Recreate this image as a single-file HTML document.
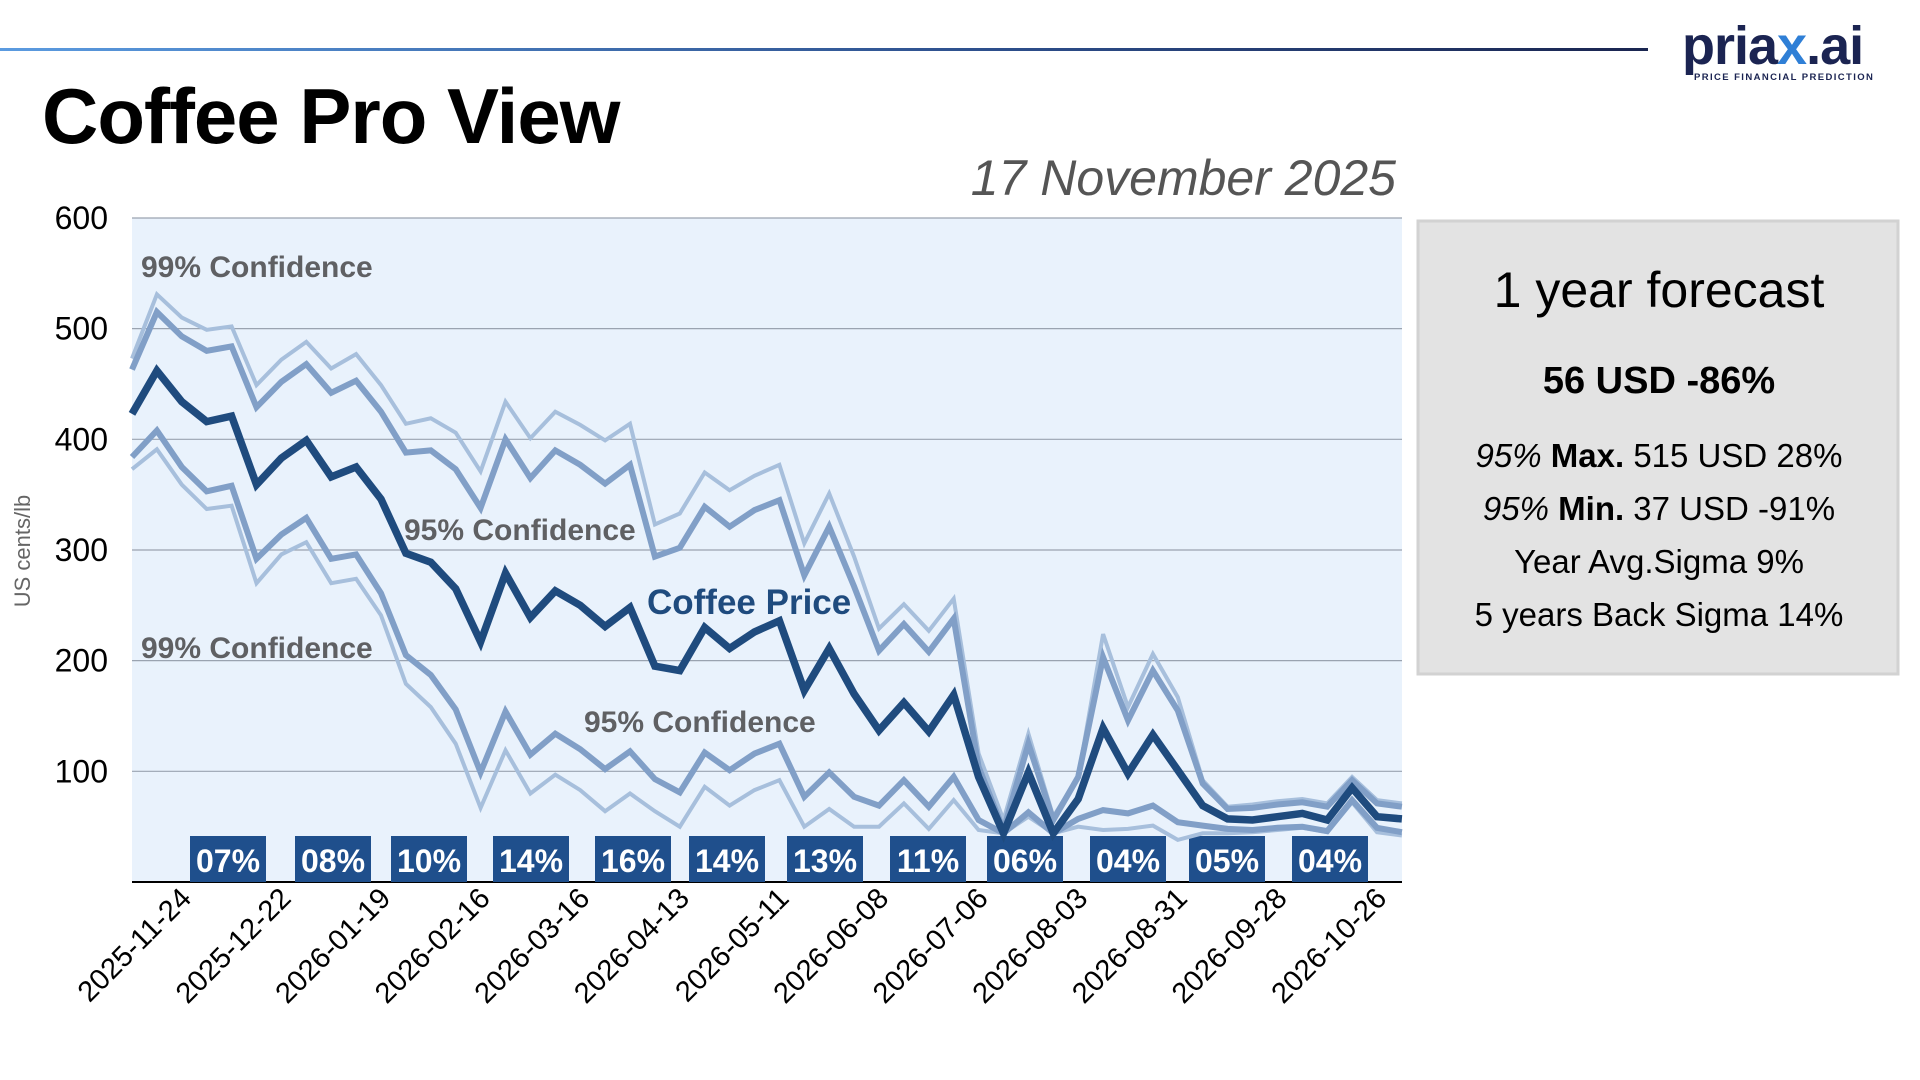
<!DOCTYPE html>
<html><head><meta charset="utf-8">
<style>
html,body{margin:0;padding:0;background:#fff;}
svg{display:block;font-family:"Liberation Sans",Arial,sans-serif;}
</style></head>
<body>
<svg id="s" width="1920" height="1080" viewBox="0 0 1920 1080" xmlns="http://www.w3.org/2000/svg">
<defs>
<linearGradient id="tl" x1="0" x2="1" y1="0" y2="0">
<stop offset="0" stop-color="#5b9be0"/><stop offset="0.6" stop-color="#2d4f8c"/><stop offset="1" stop-color="#1a2550"/>
</linearGradient>
</defs>
<rect x="0" y="48" width="1648" height="3" fill="url(#tl)"/>
<text x="1682" y="64" font-size="54" font-weight="bold" fill="#1b2452" letter-spacing="-1">pria<tspan fill="#2f7fd6">x</tspan>.ai</text>
<text x="1694" y="80" font-size="9.5" font-weight="bold" fill="#1b2452" letter-spacing="1.4">PRICE FINANCIAL PREDICTION</text>
<text x="42" y="143" font-size="78" font-weight="bold" fill="#000" letter-spacing="-1">Coffee Pro View</text>
<text x="1396" y="195" font-size="50" font-style="italic" fill="#555" text-anchor="end">17 November 2025</text>

<rect x="132" y="218" width="1270" height="664" fill="#e9f2fc"/>
<g id="grid" stroke="#9aa3b0" stroke-width="1.2"></g>
<line x1="132" y1="882" x2="1402" y2="882" stroke="#000" stroke-width="2"/>
<g id="ylab" font-size="32" fill="#000" text-anchor="end"></g>
<text transform="translate(30,551) rotate(-90)" font-size="22" fill="#666" text-anchor="middle">US cents/lb</text>

<g id="boxes"></g>
<g id="lines" fill="none" stroke-linejoin="miter" stroke-linecap="butt"></g>

<g font-weight="bold" font-size="30" fill="#5f6063">
<text x="141" y="277">99% Confidence</text>
<text x="404" y="540">95% Confidence</text>
<text x="141" y="658">99% Confidence</text>
<text x="584" y="732">95% Confidence</text>
</g>
<text x="647" y="614" font-size="35" font-weight="bold" fill="#1f4b7e">Coffee Price</text>
<g id="xlab" font-size="29" fill="#000" text-anchor="end"></g>

<rect x="1418" y="221" width="480" height="453" fill="#e3e3e3" stroke="#d2d2d2" stroke-width="3"/>
<g text-anchor="middle" fill="#000">
<text x="1659" y="307" font-size="50">1 year forecast</text>
<text x="1659" y="393" font-size="38" font-weight="bold">56 USD -86%</text>
<text x="1659" y="467" font-size="33"><tspan font-style="italic">95%</tspan> <tspan font-weight="bold">Max.</tspan> 515 USD 28%</text>
<text x="1659" y="520" font-size="33"><tspan font-style="italic">95%</tspan> <tspan font-weight="bold">Min.</tspan> 37 USD -91%</text>
<text x="1659" y="573" font-size="33">Year Avg.Sigma 9%</text>
<text x="1659" y="626" font-size="33">5 years Back Sigma 14%</text>
</g>
</svg>
<script>
var NS="http://www.w3.org/2000/svg";
function el(t,a,p,txt){var e=document.createElementNS(NS,t);for(var k in a)e.setAttribute(k,a[k]);if(txt!=null)e.textContent=txt;document.getElementById(p).appendChild(e);return e;}
function Y(v){return 882-v*1.1067;}
function X(i){return 132+24.9*i;}
for(var v=100;v<=600;v+=100){el("line",{x1:132,x2:1402,y1:Y(v),y2:Y(v)},"grid");el("text",{x:108,y:Y(v)+11},"ylab",""+v);}
var boxes=[[190,"07%"],[295,"08%"],[391,"10%"],[493,"14%"],[595,"16%"],[689,"14%"],[787,"13%"],[890,"11%"],[987,"06%"],[1090,"04%"],[1189,"05%"],[1292,"04%"]];
boxes.forEach(function(b){el("rect",{x:b[0],y:836,width:76,height:46,fill:"#1f4f8c"},"boxes");el("text",{x:b[0]+38,y:872,"font-size":32,"font-weight":"bold",fill:"#fff","text-anchor":"middle"},"boxes",b[1]);});
var u99=[473,531,510,499,502,449,472,488,464,477,449,414,419,406,371,434,401,425,413,399,414,323,333,370,354,367,377,306,351,294,229,251,227,256,116,56,134,59,95,224,158,206,167,92,68,70,73,75,71,95,74,71];
var u95=[463,515,493,480,484,429,452,468,442,453,425,388,390,373,338,400,365,390,377,360,377,294,302,339,321,336,345,277,321,267,209,233,208,238,104,47,125,56,95,203,146,191,155,89,66,67,70,72,68,92,71,68];
var pr=[423,462,434,416,421,359,383,399,366,375,346,297,289,265,217,279,239,263,250,231,248,195,191,230,211,226,236,173,211,170,137,162,136,169,95,44,99,44,75,139,98,133,101,69,57,56,59,62,56,85,59,57];
var l95=[384,408,375,353,358,292,314,329,292,296,261,205,187,156,99,154,115,134,120,102,118,93,81,117,101,116,125,77,99,77,69,92,68,95,56,44,63,44,57,65,62,69,54,51,48,47,49,50,46,74,49,45];
var l99=[373,391,359,337,340,270,296,307,270,274,241,179,158,125,67,119,80,97,83,64,80,64,50,86,69,83,92,50,66,50,50,71,48,74,47,44,59,44,50,47,48,51,38,44,44,45,47,49,45,72,45,42];
function pl(d,c,w){var p=d.map(function(v,i){return X(i).toFixed(1)+","+Y(v).toFixed(1);}).join(" ");el("polyline",{points:p,stroke:c,"stroke-width":w},"lines");}
pl(u99,"#a7bfdc",4);pl(l99,"#a7bfdc",4);pl(u95,"#819fc7",6);pl(l95,"#819fc7",6);pl(pr,"#1f4b7e",7.5);
var dates=["2025-11-24","2025-12-22","2026-01-19","2026-02-16","2026-03-16","2026-04-13","2026-05-11","2026-06-08","2026-07-06","2026-08-03","2026-08-31","2026-09-28","2026-10-26"];
dates.forEach(function(d,k){var x=X(1+4*k)+36,y=900;el("text",{x:x,y:y,transform:"rotate(-45 "+x+" "+y+")"},"xlab",d);});
</script>
</body></html>
